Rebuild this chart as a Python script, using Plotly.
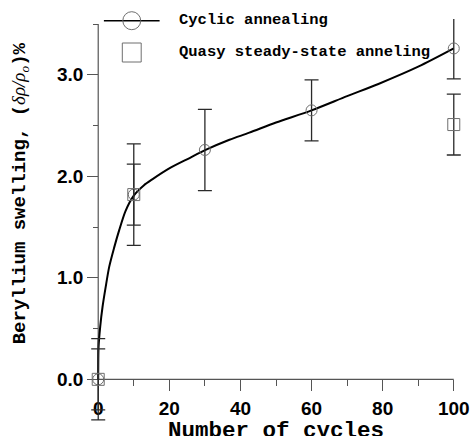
import plotly.graph_objects as go

# Measured swelling (%) versus number of annealing cycles
cyc_x = [0, 10, 30, 60, 100]
cyc_y = [0.0, 1.82, 2.26, 2.65, 3.26]
cyc_err = [0.4, 0.5, 0.4, 0.3, 0.3]

qss_x = [0, 10, 100]
qss_y = [0.0, 1.82, 2.51]
qss_err = [0.3, 0.3, 0.3]

# Smooth fitted curve through the cyclic-annealing data
fit_x = [0, 0.1, 0.56, 1.2, 2.1, 3.1, 4.5, 5.9, 7.7, 10, 12.8, 15.2, 20.1, 25.7,
         30.2, 36.9, 42.5, 50, 60, 70, 78.8, 90, 100]
fit_y = [0.0, 0.32, 0.52, 0.71, 0.91, 1.11, 1.30, 1.47, 1.66, 1.81, 1.91, 1.97,
         2.08, 2.18, 2.26, 2.36, 2.43, 2.53, 2.65, 2.79, 2.91, 3.08, 3.26]

x_ticks = [0, 20, 40, 60, 80, 100]
y_ticks = [0.0, 1.0, 2.0, 3.0]
x_axis_end = 100
y_axis_end = 3.5

# Plot window is a little larger than the drawn axes so error bars stay visible
x_range = [-4, 104]
y_range = [-0.45, 3.55]

W, H = 474, 436
L, R, T, B = 84, 4, 19, 11
pw, ph = W - L - R, H - T - B


def px(xp):
    return (xp - L) / pw


def py(yp):
    return (H - B - yp) / ph


mono = "Courier New, Liberation Mono, monospace"
sans = "Arial, Liberation Sans, sans-serif"
mark_col = "#6e6e6e"
err_col = "#2a2a2a"
axis_col = "#555555"

fig = go.Figure()

fig.add_trace(go.Scatter(
    x=fit_x, y=fit_y, mode="lines",
    line=dict(color="black", width=2, shape="spline", smoothing=0.8),
    showlegend=False, hoverinfo="skip"))

fig.add_trace(go.Scatter(
    x=cyc_x, y=cyc_y, mode="markers", name="Cyclic annealing",
    marker=dict(symbol="circle-open", size=11, color=mark_col, line=dict(width=1)),
    error_y=dict(type="data", array=cyc_err, color=err_col, thickness=1.3, width=7),
    showlegend=False))

fig.add_trace(go.Scatter(
    x=qss_x, y=qss_y, mode="markers", name="Quasy steady-state anneling",
    marker=dict(symbol="square-open", size=12, color=mark_col, line=dict(width=1)),
    error_y=dict(type="data", array=qss_err, color=err_col, thickness=1.3, width=7),
    showlegend=False))

tick_font = dict(family=sans, size=19, color="black", weight="bold")

fig.update_xaxes(
    range=x_range, tickvals=x_ticks, ticktext=[str(v) for v in x_ticks],
    anchor="free", position=(0 - y_range[0]) / (y_range[1] - y_range[0]),
    showline=False, showgrid=False, zeroline=False,
    ticks="outside", ticklen=11, tickcolor=axis_col, tickwidth=1.2,
    tickfont=tick_font, ticklabelstandoff=1,
    minor=dict(dtick=10, tick0=0, ticks="outside", ticklen=6, tickcolor=axis_col,
               tickwidth=1.2, showgrid=False),
    layer="below traces")

fig.update_yaxes(
    range=y_range, tickvals=y_ticks, ticktext=[f"{v:.1f}" for v in y_ticks],
    anchor="free", position=(0 - x_range[0]) / (x_range[1] - x_range[0]),
    showline=False, showgrid=False, zeroline=False,
    ticks="outside", ticklen=11, tickcolor=axis_col, tickwidth=1.2,
    tickfont=tick_font,
    minor=dict(dtick=0.5, tick0=0, ticks="outside", ticklen=5, tickcolor=axis_col,
               tickwidth=1.2, showgrid=False),
    layer="below traces")

annotations = [
    dict(text="Number of cycles", xref="paper", yref="paper",
         x=px(277), y=py(431), xanchor="center", yanchor="middle", showarrow=False,
         font=dict(family=mono, size=22.5, color="black", weight="bold")),
    dict(text='Beryllium swelling, (<span style="font-family:Liberation Serif, Times New Roman, serif;'
              'font-weight:normal"><i>δρ/ρ<sub>o</sub></i></span>)%',
         xref="paper", yref="paper", x=px(20), y=py(193), textangle=-90,
         xanchor="center", yanchor="middle", showarrow=False,
         font=dict(family=mono, size=19, color="black", weight="bold")),
    dict(text="Cyclic annealing", xref="paper", yref="paper",
         x=px(177), y=py(20), xanchor="left", yanchor="middle", showarrow=False,
         font=dict(family=mono, size=15.5, color="black", weight="bold")),
    dict(text="Quasy steady-state anneling", xref="paper", yref="paper",
         x=px(177), y=py(52), xanchor="left", yanchor="middle", showarrow=False,
         font=dict(family=mono, size=15.5, color="black", weight="bold")),
]

shapes = [
    # axis lines, drawn only over the labelled spans
    dict(type="line", xref="x", yref="y", x0=x_ticks[0], x1=x_axis_end, y0=0, y1=0,
         layer="below", line=dict(color=axis_col, width=1.2)),
    dict(type="line", xref="x", yref="y", x0=0, x1=0, y0=y_ticks[0], y1=y_axis_end,
         layer="below", line=dict(color=axis_col, width=1.2)),
    # legend keys
    dict(type="line", xref="paper", yref="paper", x0=px(104), x1=px(160),
         y0=py(20.7), y1=py(20.7), line=dict(color="black", width=1.5)),
    dict(type="circle", xref="paper", yref="paper", x0=px(123), x1=px(141),
         y0=py(11.7), y1=py(29.7), line=dict(color=mark_col, width=1)),
    dict(type="rect", xref="paper", yref="paper", x0=px(122.5), x1=px(141.5),
         y0=py(43), y1=py(62), line=dict(color=mark_col, width=1)),
]

fig.update_layout(
    width=W, height=H, margin=dict(l=L, r=R, t=T, b=B),
    plot_bgcolor="white", paper_bgcolor="white",
    annotations=annotations, shapes=shapes, showlegend=False)

fig.write_html("out.html")
